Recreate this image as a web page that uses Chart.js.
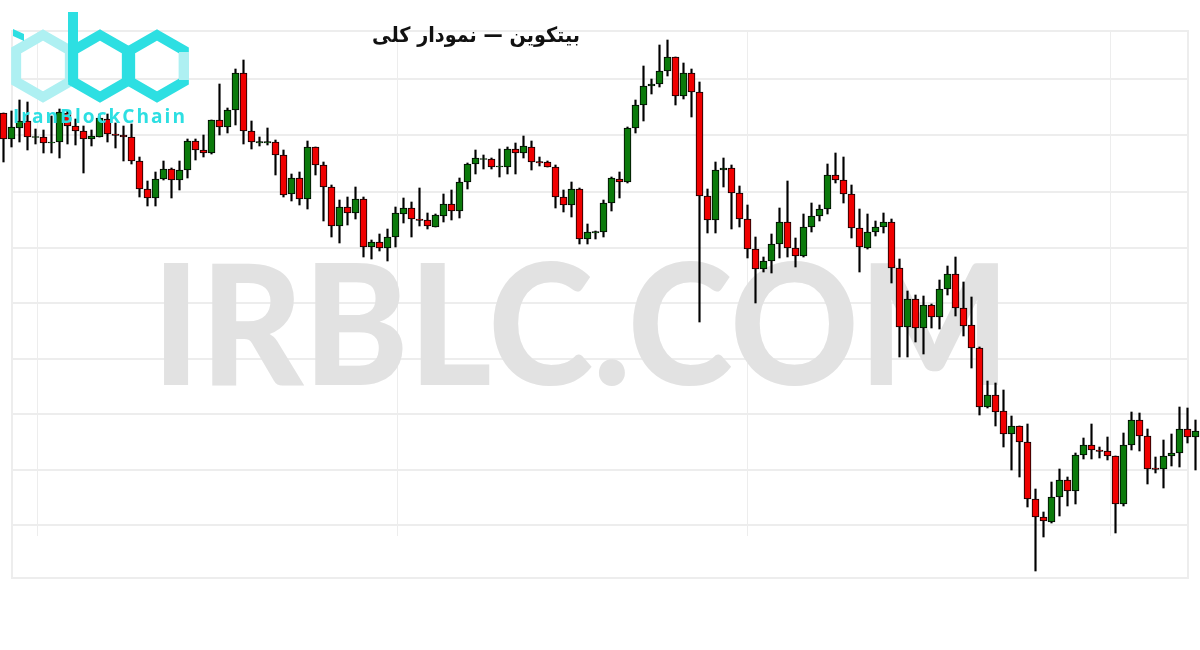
<!DOCTYPE html>
<html><head><meta charset="utf-8">
<script src="https://cdn.jsdelivr.net/npm/chart.js@4.4.1/dist/chart.umd.min.js"></script>
<style>html,body{margin:0;padding:0;background:#fff;}#wrap{width:1200px;height:650px;position:relative;}</style>
</head><body><div id="wrap"><canvas id="c"></canvas></div>
<script>
// OHLC values (arbitrary price units)
const openP = [887,861,872,879,862.5,863,857,858,887,874,869,861,863,881,866,865,863,839,811,802,
821,831,820,830,859,850,847,880,873,890,927,869,857,857,858,845,806,822,801,853,
835,813,774,793,787,801,753,758,752,763,786,792,781,780,773,784,796,789,818,836,
840.5,841,833,833,851,847,853,838.5,838,833,803,795,811,761,767,768,797,821,818,872,
895,914,916,929,943,904,927,908,804,780,830,832,807,781,751,731,739,756,778,752,
744,773,784,791,825,820,806,772,752,768,773,778,732,673,701,672,695,683,711,726,
692,675,652,593,605,589,566,574,558,501,483,478,503,520,509,545,555,550,549,544,
496,555,580,564,532,531,544,547,571,563];
const highP = [887,889,900,898,871,870,884,891,889,881,874,870,886,886,877,874,876,843,819,828,
839,832,839,861,861,865,880,916,892,931,940,879,863,872,860,850,826,828,859,853,
838,815,800,803,813,803,760,766,771,793,802,798,812,787,786,806,810,822,837,850,
845,842,851,853,857,864,859,843,839,835,810,818,812,776,769,800,823,828,873,900,
934,921,955,960,943,937,931,918,811,838,842,835,814,795,763,743,766,792,819,762,
786,797,795,836,847,843,815,791,786,779,787,781,741,709,705,704,696,720,734,743,
718,703,653,619,617,610,584,574,576,511,488,518,531,523,547,562,576,553,563,544,
567,588,587,571,543,560,566,593,592,580];
const lowP = [838,853,858,850,856,847,847,842,856,855,827,854,863,858,852,839,836,803,794,794,
820,802,810,822,840,843,846,865,867,875,856,851,854,855,825,803,799,795,791,825,
779,763,757,775,781,743,741,749,739,753,777,763,774,771,773,778,780,782,811,826,
831,831,823,826,826,842,830,834,833,792,788,783,756,756,761,763,789,802,817,867,
879,906,913,924,895,901,883,678,767,767,813,771,773,742,697,728,727,742,743,733,
743,768,779,786,817,797,762,728,751,764,767,717,643,643,658,646,672,671,705,684,
664,632,585,592,574,553,530,523,493,429,463,477,484,494,496,541,541,542,540,467,
494,550,549,516,527,512,534,533,557,530];
const closeP = [861,873,879,863,863.5,857,858,888,874,869,861,864,882,866,864.5,863,839,811,802,821,
831,820,830,859,850,847,880,873,890,927,869,858,858.5,858.5,845,805,822,801,853,835,
813,774,793,787,801,753,758,752,763,787,792,781,779.5,774,785,796,789,818,836,842,
841.5,833,834,851,847,854,838,837,833,803,795,811,761,768,768.5,797,822,818,872,895,
914,916,929,943,904,927,908,804,780,830,832,807,781,751,731,739,756,778,752,744,
773,784,791,825,820,806,772,753,768,773,778,732,673,701,672,695,683,711,726,692,
674,652,593,605,588,566,574,558,501,483,479,503,520,509,545,555,550,548.5,544,496,
555,580,564,531,530.5,544,547,571,563,569];
const gridLevels = [921, 865, 808, 752, 697, 641, 586, 530, 475];
const titleText = 'بیتکوین — نمودار کلی';
const watermarkText = 'IRBLC.COM';
const logoText = 'IranBlockChain';

const UP = '#0b7a0b', DOWN = '#f00000';
const idx = openP.map((_, i) => i);
const wickData = idx.map(i => ({x: i, y: [lowP[i], highP[i]]}));
const bodyData = idx.map(i => ({x: i, y: [openP[i], closeP[i]]}));
const bodyColors = idx.map(i => closeP[i] >= openP[i] ? UP : DOWN);

function hexPath(ctx, cx, cy, R) {
  ctx.beginPath();
  for (let j = 0; j < 6; j++) {
    const a = (-90 + 60 * j) * Math.PI / 180;
    const px = cx + R * Math.cos(a), py = cy + R * Math.sin(a);
    if (j === 0) ctx.moveTo(px, py); else ctx.lineTo(px, py);
  }
  ctx.closePath();
}

const deco = {
  id: 'deco',
  beforeDatasetsDraw(chart) {
    const ctx = chart.ctx, ys = chart.scales.y;
    ctx.save();
    ctx.strokeStyle = '#ededed';
    ctx.lineWidth = 2;
    gridLevels.forEach(v => {
      const py = Math.round(ys.getPixelForValue(v));
      ctx.beginPath(); ctx.moveTo(12, py); ctx.lineTo(1188, py); ctx.stroke();
    });
    ctx.lineWidth = 1;
    [37, 397, 747, 1110].forEach(px => {
      ctx.beginPath(); ctx.moveTo(px + 0.5, 31); ctx.lineTo(px + 0.5, 536); ctx.stroke();
    });
    ctx.lineWidth = 2;
    ctx.strokeRect(12, 31, 1176, 547);
    // watermark
    ctx.fillStyle = '#e2e2e2';
    ctx.font = '900 167px Lato, "Open Sans", sans-serif';
    ctx.textBaseline = 'alphabetic';
    const w = ctx.measureText(watermarkText).width;
    ctx.translate(152, 385);
    ctx.scale(858 / w, 1);
    ctx.fillText(watermarkText, 0, 0);
    ctx.restore();
  },
  afterDatasetsDraw(chart) {
    const ctx = chart.ctx;
    ctx.save();
    ctx.lineJoin = 'miter';
    ctx.lineWidth = 10;
    ctx.strokeStyle = '#aef0f2';
    hexPath(ctx, 43, 66, 31); ctx.stroke();
    ctx.strokeStyle = '#2ddfe2';
    hexPath(ctx, 100, 66, 31); ctx.stroke();
    hexPath(ctx, 157, 66, 31); ctx.stroke();
    ctx.strokeStyle = '#aef0f2';
    ctx.beginPath(); ctx.moveTo(184, 52); ctx.lineTo(184, 80); ctx.stroke();
    ctx.strokeStyle = '#2ddfe2';
    ctx.beginPath(); ctx.moveTo(73, 12); ctx.lineTo(73, 82); ctx.stroke();
    ctx.fillStyle = '#2ddfe2';
    ctx.beginPath(); ctx.moveTo(13, 29); ctx.lineTo(24, 34); ctx.lineTo(24, 41); ctx.lineTo(13, 36); ctx.closePath(); ctx.fill();
    ctx.font = 'bold 19px "Open Sans", sans-serif';
    try { ctx.letterSpacing = '2px'; } catch (e) {}
    const lw = ctx.measureText(logoText).width;
    ctx.save();
    ctx.translate(13, 123);
    ctx.scale(174 / lw, 1);
    ctx.fillText(logoText, 0, 0);
    ctx.restore();
    try { ctx.letterSpacing = '0px'; } catch (e) {}
    ctx.fillStyle = '#111';
    ctx.font = 'bold 21px "DejaVu Sans", sans-serif';
    ctx.direction = 'rtl';
    ctx.textAlign = 'center';
    ctx.textBaseline = 'alphabetic';
    const tw = ctx.measureText(titleText).width;
    ctx.translate(476, 42);
    ctx.scale(Math.min(1.2, 208 / tw), 1);
    ctx.fillText(titleText, 0, 0);
    ctx.restore();
  }
};

new Chart(document.getElementById('c'), {
  type: 'bar',
  data: {
    datasets: [
      { label: 'wick', data: wickData, backgroundColor: '#000', borderWidth: 0,
        barThickness: 1.5, grouped: false, order: 2 },
      { label: 'body', data: bodyData, backgroundColor: bodyColors, borderColor: '#000',
        borderWidth: 1, borderSkipped: false, barThickness: 7, grouped: false, order: 1 }
    ]
  },
  options: {
    responsive: true,
    maintainAspectRatio: false,
    animation: false,
    layout: { padding: 0 },
    plugins: { legend: { display: false }, tooltip: { enabled: false }, title: { display: false } },
    scales: {
      x: { type: 'linear', display: false, offset: false, min: -0.4375, max: 149.5625 },
      y: { type: 'linear', display: false, min: 350, max: 1000 }
    }
  },
  plugins: [deco]
});
</script>
</body></html>
